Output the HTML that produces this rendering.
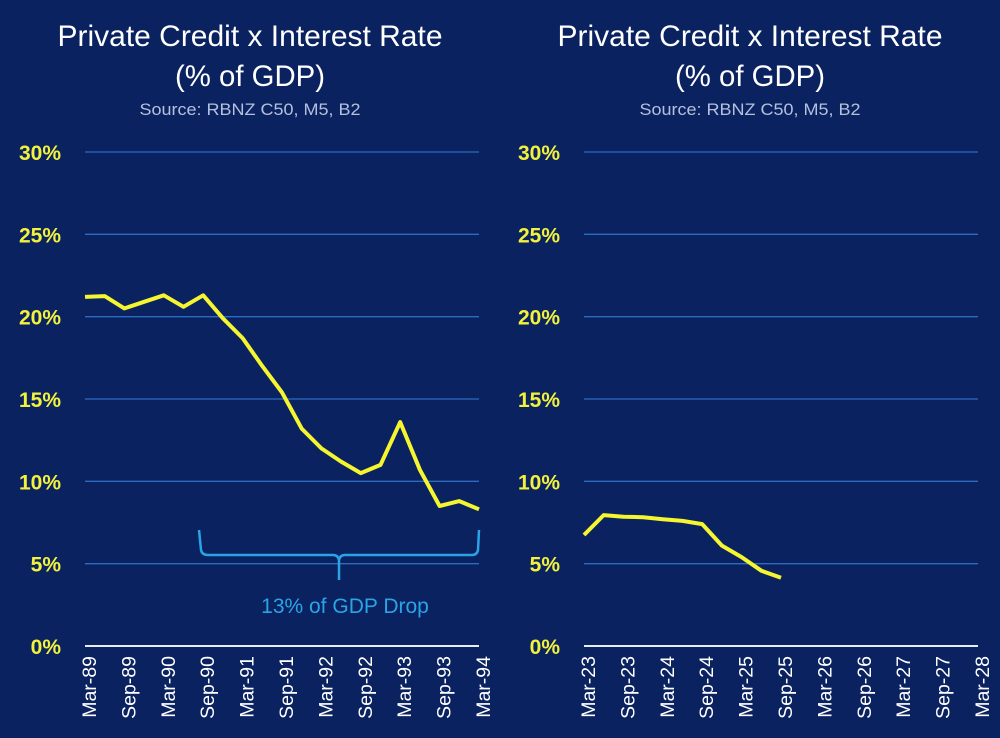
<!DOCTYPE html>
<html><head><meta charset="utf-8"><style>
html,body{margin:0;padding:0;background:#0a2260;}
svg{display:block;font-family:"Liberation Sans",sans-serif;}
</style></head><body>
<svg id="chart" width="1000" height="738" viewBox="0 0 1000 738" xmlns="http://www.w3.org/2000/svg">
<rect x="0" y="0" width="1000" height="738" fill="#0a2260"/>
</svg>
<script>
const yTicks = [0, 5, 10, 15, 20, 25, 30];
const leftLabels = ["Mar-89","Sep-89","Mar-90","Sep-90","Mar-91","Sep-91","Mar-92","Sep-92","Mar-93","Sep-93","Mar-94"];
const leftValues = [21.2,21.25,20.5,20.9,21.3,20.6,21.3,19.9,18.7,17.0,15.4,13.2,12.0,11.2,10.5,11.0,13.6,10.7,8.5,8.8,8.3];
const rightLabels = ["Mar-23","Sep-23","Mar-24","Sep-24","Mar-25","Sep-25","Mar-26","Sep-26","Mar-27","Sep-27","Mar-28"];
const rightValues = [6.74,7.95,7.85,7.82,7.7,7.6,7.4,6.1,5.4,4.57,4.15];

const NS = "http://www.w3.org/2000/svg";
const svg = document.getElementById("chart");
function mk(tag, attrs, parent){
  const e = document.createElementNS(NS, tag);
  for (const k in attrs) e.setAttribute(k, attrs[k]);
  (parent||svg).appendChild(e);
  return e;
}
const yTop = 152, yBot = 646, yMax = 30;
function yScale(v){ return yBot - v/yMax*(yBot-yTop); }

function panel(prefix, x0, x1, labels, values, titleCx){
  const g = mk("g", {});
  
  
  const nQ = (labels.length-1)*2;
  const xScale = i => x0 + i*(x1-x0)/nQ;
  const t1 = mk("text", {x:titleCx, y:46, fill:"#ffffff", "font-size":30, "text-anchor":"middle", textLength:385, lengthAdjust:"spacingAndGlyphs"}, g);
  t1.textContent = "Private Credit x Interest Rate";
  
  
  const t2 = mk("text", {x:titleCx, y:86, fill:"#ffffff", "font-size":30, "text-anchor":"middle", textLength:150, lengthAdjust:"spacingAndGlyphs"}, g);
  t2.textContent = "(% of GDP)";
  
  
  const t3 = mk("text", {x:titleCx, y:115, fill:"#b4c0dc", "font-size":17, "text-anchor":"middle", textLength:221, lengthAdjust:"spacingAndGlyphs"}, g);
  t3.textContent = "Source: RBNZ C50, M5, B2";
  
  
  yTicks.forEach(v => {
    const y = yScale(v);
    if (v > 0) {
      const gl = mk("line", {x1:x0, x2:x1, y1:y, y2:y, stroke:"#2c6cc0", "stroke-width":1.3}, g);
      
      
    }
    const tl = mk("text", {x:x0-24, y:y+8, fill:"#f2f23c", "font-size":21, "font-weight":"bold", "text-anchor":"end"}, g);
    tl.textContent = v + "%";
    
    
  });
  const ax = mk("line", {x1:x0, x2:x1, y1:yBot, y2:yBot, stroke:"#e8ecf4", "stroke-width":2}, g);
  
  
  labels.forEach((lab, i) => {
    const x = xScale(i*2) + 11;
    const t = mk("text", {x:0, y:0, fill:"#ffffff", "font-size":19.5, "text-anchor":"end", transform:`translate(${x},${yBot+10}) rotate(-90)`}, g);
    t.textContent = lab;
    
    
  });
  const pts = values.map((v,i) => xScale(i).toFixed(1)+","+yScale(v).toFixed(1)).join(" ");
  const pl = mk("polyline", {points:pts, fill:"none", stroke:"#f5f530", "stroke-width":4, "stroke-linejoin":"round"}, g);
  
  
  return xScale;
}
const lx = panel("left", 85, 479, leftLabels, leftValues, 250);
panel("right", 584, 978, rightLabels, rightValues, 750);

const br = mk("path", {d:"M199,530 L201,550 Q202,555 208,555 L333,555 Q338,555 339,560 L339,580 M339,560 Q340,555 345,555 L472,555 Q477,555 478,550 L479,530", fill:"none", stroke:"#2aa4e6", "stroke-width":2.5});


const bt = mk("text", {x:345, y:613, fill:"#2aa4e6", "font-size":21, "text-anchor":"middle"});
bt.textContent = "13% of GDP Drop";


</script>
</body></html>
